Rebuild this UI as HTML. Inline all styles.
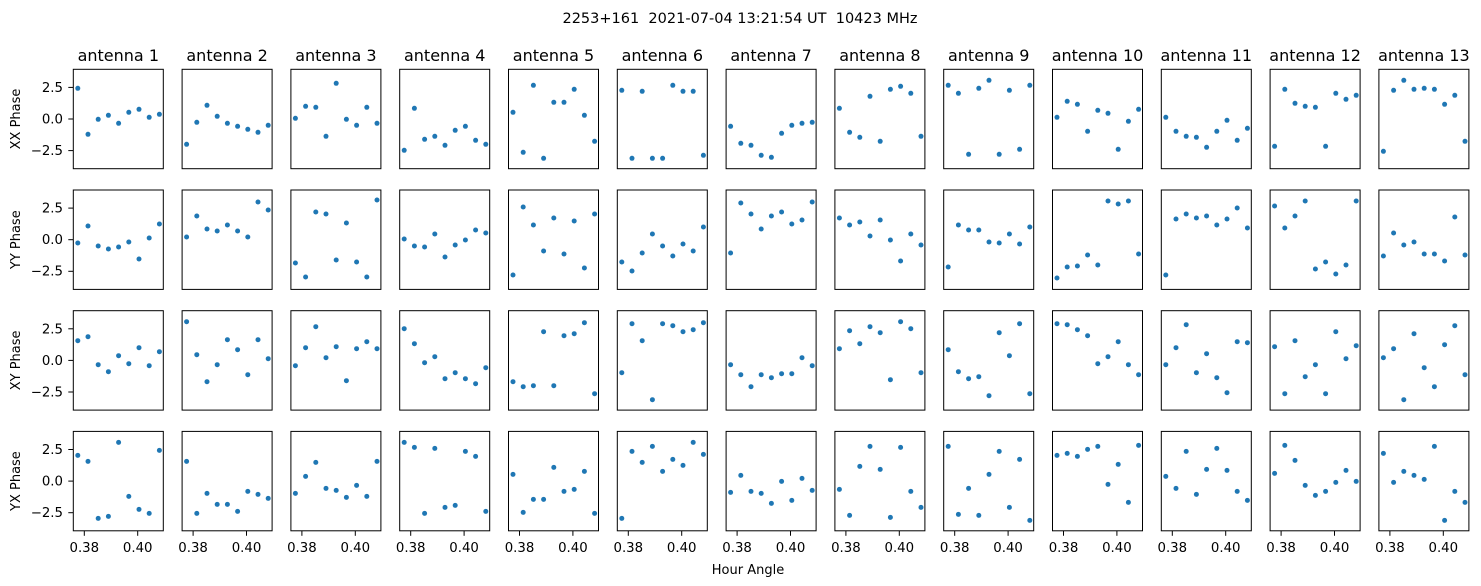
<!DOCTYPE html>
<html><head><meta charset="utf-8"><style>
html,body{margin:0;padding:0;background:#fff;}
svg{display:block;font-family:"DejaVu Sans","Liberation Sans",sans-serif;}
text{white-space:pre;}
</style></head><body>
<svg id="s" width="1481" height="586" viewBox="0 0 1481 586" xmlns="http://www.w3.org/2000/svg" xml:space="preserve">
<rect width="1481" height="586" fill="#fff"/>
<text x="740" y="23" font-size="14.5" text-anchor="middle">2253+161  2021-07-04 13:21:54 UT  10423 MHz</text>
<g font-size="16" text-anchor="middle">
<text x="118.3" y="61">antenna 1</text><text x="227.1" y="61">antenna 2</text><text x="335.9" y="61">antenna 3</text><text x="444.7" y="61">antenna 4</text><text x="553.5" y="61">antenna 5</text><text x="662.3" y="61">antenna 6</text><text x="771.1" y="61">antenna 7</text><text x="879.9" y="61">antenna 8</text><text x="988.7" y="61">antenna 9</text><text x="1097.5" y="61">antenna 10</text><text x="1206.3" y="61">antenna 11</text><text x="1315.1" y="61">antenna 12</text><text x="1423.9" y="61">antenna 13</text>
</g>
<g font-size="13.3" text-anchor="end">
<text x="63" y="92">2.5</text><text x="63" y="123.5">0.0</text><text x="63" y="155">−2.5</text>
<text x="63" y="212.7">2.5</text><text x="63" y="244.2">0.0</text><text x="63" y="275.7">−2.5</text>
<text x="63" y="333.4">2.5</text><text x="63" y="364.9">0.0</text><text x="63" y="396.4">−2.5</text>
<text x="63" y="454.1">2.5</text><text x="63" y="485.6">0.0</text><text x="63" y="517.1">−2.5</text>
</g>
<g font-size="13" text-anchor="middle">
<text transform="translate(20,119) rotate(-90)">XX Phase</text>
<text transform="translate(20,239.7) rotate(-90)">YY Phase</text>
<text transform="translate(20,360.4) rotate(-90)">XY Phase</text>
<text transform="translate(20,481.1) rotate(-90)">YX Phase</text>
</g>
<g font-size="13.3" text-anchor="middle">
<text x="84.3" y="552">0.38</text><text x="137.7" y="552">0.40</text>
<text x="193.1" y="552">0.38</text><text x="246.5" y="552">0.40</text>
<text x="301.9" y="552">0.38</text><text x="355.3" y="552">0.40</text>
<text x="410.7" y="552">0.38</text><text x="464.1" y="552">0.40</text>
<text x="519.5" y="552">0.38</text><text x="572.9" y="552">0.40</text>
<text x="628.3" y="552">0.38</text><text x="681.7" y="552">0.40</text>
<text x="737.1" y="552">0.38</text><text x="790.5" y="552">0.40</text>
<text x="845.9" y="552">0.38</text><text x="899.3" y="552">0.40</text>
<text x="954.7" y="552">0.38</text><text x="1008.1" y="552">0.40</text>
<text x="1063.5" y="552">0.38</text><text x="1116.9" y="552">0.40</text>
<text x="1172.3" y="552">0.38</text><text x="1225.7" y="552">0.40</text>
<text x="1281.1" y="552">0.38</text><text x="1334.5" y="552">0.40</text>
<text x="1389.9" y="552">0.38</text><text x="1443.3" y="552">0.40</text>
</g>
<text x="748" y="574" font-size="13" text-anchor="middle">Hour Angle</text>
<g id="g"></g>
</svg>
<script>
var D=[
[[70,208,163,151,175,142,133,157,148],[238,172,121,154,175,184,193,202,181],[160,124,127,214,55,163,181,127,175],[256,130,223,214,241,196,184,226,238],[142,262,61,280,112,112,73,151,229],[76,280,79,280,280,61,79,79,271],[184,235,241,271,277,205,181,175,172],[130,202,217,94,229,73,64,85,214],[61,85,268,70,46,268,76,253,61],[157,109,118,199,136,145,253,169,133],[157,199,214,217,247,199,166,226,190],[244,73,115,124,127,244,85,103,91],[259,76,46,73,70,73,118,91,229]],
[[172,121,181,190,184,169,220,157,115],[154,91,130,136,118,136,154,49,73],[232,274,79,85,223,112,229,274,43],[160,181,184,145,214,178,163,133,142],[268,64,118,196,97,205,106,247,85],[229,256,202,145,181,211,175,196,124],[202,52,85,130,91,79,115,103,49],[97,118,109,151,103,163,226,145,178],[244,118,133,133,169,172,145,175,124],[277,244,241,208,238,46,55,46,205],[268,100,85,97,91,118,100,67,127],[61,127,91,46,250,229,265,238,46],[211,142,178,169,205,205,226,94,208]],
[[103,91,175,196,148,172,124,178,136],[46,145,226,175,100,130,205,100,157],[178,124,61,154,121,223,127,106,127],[67,112,169,151,217,199,217,232,184],[226,241,238,76,238,88,82,49,262],[199,52,103,280,52,58,76,70,49],[175,205,241,205,214,202,202,154,178],[127,73,112,61,79,220,46,67,199],[130,196,217,211,268,79,148,52,262],[52,55,70,88,172,151,106,175,205],[175,124,55,199,142,214,259,106,109],[121,262,103,211,175,262,76,157,118],[154,127,280,82,184,241,115,58,205]],
[[85,103,274,268,46,208,247,259,70],[103,259,199,232,232,253,193,202,214],[199,148,106,184,190,211,175,208,103],[46,61,259,64,241,235,73,88,253],[142,256,217,217,121,193,187,133,259],[274,73,106,58,133,97,115,46,82],[196,145,193,199,229,163,220,154,190],[187,265,118,58,127,271,61,193,241],[58,262,184,265,142,73,241,97,280],[85,79,88,67,58,172,112,226,55],[148,184,73,202,127,64,130,193,220],[139,55,100,175,205,193,166,130,163],[79,166,133,145,157,58,280,193,226]]];
var h='';
for(var r=0;r<4;r++){var T=69.3+r*120.7;var C=T+49.7;
 for(var c=0;c<13;c++){var L=73.3+c*108.8;
  h+='<rect x="'+L+'" y="'+T+'" width="90" height="99.4" fill="none" stroke="#000" stroke-width="1"/>';
  if(c==0){for(var k=-1;k<=1;k++){var yy=C+k*31.6;h+='<line x1="'+(L-5)+'" x2="'+L+'" y1="'+yy+'" y2="'+yy+'" stroke="#000"/>';}}
  if(r==3){var b=T+99.4;[11,64.4].forEach(function(o){h+='<line x1="'+(L+o)+'" x2="'+(L+o)+'" y1="'+b+'" y2="'+(b+5)+'" stroke="#000"/>';});}
  var d=D[r][c];
  for(var i=0;i<9;i++){var x=L+4.5+i*10.2;var y=T+(d[i]-13)/3;
   h+='<circle cx="'+x.toFixed(1)+'" cy="'+y.toFixed(1)+'" r="2.5" fill="#1f77b4"/>';}
 }}
document.getElementById('g').innerHTML=h;
</script>
</body></html>
